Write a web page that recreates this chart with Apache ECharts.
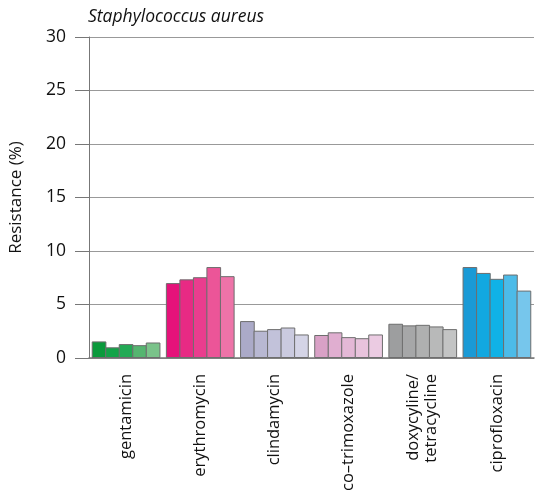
<!DOCTYPE html>
<html><head><meta charset="utf-8">
<script src="https://cdn.jsdelivr.net/npm/echarts@6/dist/echarts.min.js"></script>
<style>html,body{margin:0;padding:0;background:#fff}#c{width:535px;height:499px}</style>
</head><body><div id="c"></div>
<script>
var categories = ['gentamicin','erythromycin','clindamycin','co\u2013trimoxazole','doxycyline/\ntetracycline','ciprofloxacin'];
var s1 = [1.55, 7.0, 3.45, 2.15, 3.2, 8.5];
var s2 = [1.0, 7.35, 2.55, 2.4, 3.05, 7.95];
var s3 = [1.3, 7.55, 2.7, 1.95, 3.1, 7.4];
var s4 = [1.2, 8.5, 2.85, 1.85, 2.95, 7.8];
var s5 = [1.45, 7.65, 2.2, 2.2, 2.7, 6.3];
var yTicks = [0,5,10,15,20,25,30];
var palette = [
  ['#0a9a3c','#12a348','#22aa55','#55b570','#7ac38a'],
  ['#e5127a','#e82a84','#ea3d8e','#ec5598','#ee73a8'],
  ['#abaac8','#b8b8d2','#c2c2da','#cacadf','#d4d4e6'],
  ['#d9a1c6','#e0aed0','#e4b8d6','#e8c3dc','#ebcbe2'],
  ['#9d9e9f','#a6a7a8','#afb0b0','#b8b9b9','#c3c4c4'],
  ['#1a9ad6','#12a8e0','#10b2e6','#4cbbe8','#76c6ec']
];
var seriesVals = [s1,s2,s3,s4,s5];
var FONT = 'Open Sans';
var chart = echarts.init(document.getElementById('c'));
chart.setOption({
  animation:false,
  title:{text:'Staphylococcus aureus',left:83,top:3,textStyle:{fontFamily:FONT,fontStyle:'italic',fontWeight:'normal',fontSize:17.5,color:'#111'}},
  grid:{left:88,right:1,top:37,bottom:141},
  xAxis:{type:'category',data:categories,
    axisLine:{lineStyle:{color:'#777',width:1.5}},axisTick:{show:false},
    axisLabel:{rotate:90,margin:16,fontFamily:FONT,fontSize:16.5,color:'#111',lineHeight:18,interval:0}},
  yAxis:{type:'value',min:0,max:30,interval:5,
    name:'Resistance (%)',nameLocation:'middle',nameGap:64,nameRotate:90,
    nameTextStyle:{fontFamily:FONT,fontSize:17,color:'#111'},
    axisLine:{show:true,lineStyle:{color:'#777'}},
    axisTick:{show:true,length:14,lineStyle:{color:'#777'}},
    splitLine:{lineStyle:{color:'#999',width:1}},
    axisLabel:{margin:23,fontFamily:FONT,fontSize:17.5,color:'#111',formatter:function(v){return yTicks.indexOf(v)>=0?String(v):'';}}},
  series: seriesVals.map(function(arr,si){
    return {type:'bar',barGap:'-8%',barWidth:'19.8%',
      data:arr.map(function(v,ci){return {value:v,itemStyle:{color:palette[ci][si]}};}),
      itemStyle:{borderColor:'#6e6e6e',borderWidth:1}};
  })
});
</script></body></html>
